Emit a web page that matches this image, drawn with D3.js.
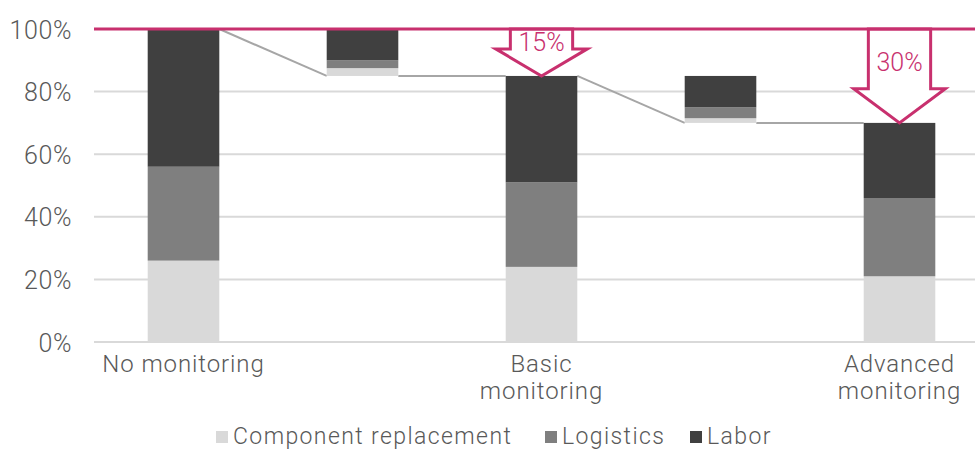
<!DOCTYPE html>
<html>
<head>
<meta charset="utf-8">
<script src="https://cdn.jsdelivr.net/npm/d3@7"></script>
<style>
  html, body { margin: 0; padding: 0; background: #fff; }
  svg { display: block; }
  text { font-family: Roboto, "Liberation Sans", Arial, sans-serif; font-weight: 300; fill: #595959; }
</style>
</head>
<body>
<svg id="chart" width="975" height="450"></svg>
<script>
// Maintenance cost by monitoring level, as a share of the unmonitored cost (%)
const categories = ["No monitoring", "", "Basic\nmonitoring", "", "Advanced\nmonitoring"];
// Floating offset of each column (step columns start where the next total ends)
const baseValues = [0, 85, 0, 70, 0];
const componentValues = [26, 2.5, 24, 1.5, 21];
const logisticsValues = [30, 2.5, 27, 3.5, 25];
const laborValues = [44, 10, 34, 10, 24];
const seriesNames = ["Component replacement", "Logistics", "Labor"];
const seriesColors = ["#d9d9d9", "#7f7f7f", "#404040"];
const yTicks = [0, 20, 40, 60, 80, 100];
const reference = 100;
// Columns that carry a savings arrow against the reference
const savingsColumns = [2, 4];

const svg = d3.select("#chart");
const width = 975, height = 450;
const margin = { left: 94, top: 29, bottom: 108 };
const accent = "#c8306e";

const x = d3.scaleBand()
  .domain(d3.range(categories.length))
  .range([margin.left, 989])
  .paddingInner(0.6)
  .paddingOuter(0.3);

const y = d3.scaleLinear()
  .domain([0, 100])
  .range([342, margin.top]);

// gridlines
svg.append("g")
  .selectAll("line")
  .data(yTicks.filter(t => t < 100))
  .join("line")
  .attr("x1", margin.left).attr("x2", width)
  .attr("y1", d => y(d)).attr("y2", d => y(d))
  .attr("stroke", "#d9d9d9").attr("stroke-width", 2);

// y axis labels
const yAxis = d3.axisLeft(y).tickValues(yTicks).tickFormat(d => d + "%").tickSize(0).tickPadding(0);
const yg = svg.append("g").attr("transform", "translate(72,0)").call(yAxis);
yg.select(".domain").remove();
yg.selectAll("text")
  .attr("font-family", null)
  .style("font-size", "25px")
  .attr("dy", "0.36em")
  .attr("letter-spacing", "0.6");

// stacked data
const rows = categories.map((c, i) => ({
  i,
  base: baseValues[i],
  vals: [componentValues[i], logisticsValues[i], laborValues[i]]
}));
const totals = rows.map(r => r.base + d3.sum(r.vals));

const segs = [];
rows.forEach(r => {
  let acc = r.base;
  r.vals.forEach((v, k) => {
    segs.push({ i: r.i, k, y0: acc, y1: acc + v });
    acc += v;
  });
});

// connector lines between columns
const conn = [];
for (let i = 0; i < rows.length - 1; i++) {
  const fromTop = totals[i];
  const nextBase = rows[i + 1].base;
  const nextTop = totals[i + 1];
  const target = rows[i + 1].base > 0 ? nextBase : nextTop;
  conn.push({ x1: x(i) + x.bandwidth(), y1: rows[i].base > 0 ? rows[i].base : fromTop,
              x2: x(i + 1), y2: target });
}
svg.append("g")
  .selectAll("line")
  .data(conn)
  .join("line")
  .attr("x1", d => d.x1).attr("x2", d => d.x2)
  .attr("y1", d => y(d.y1)).attr("y2", d => y(d.y2))
  .attr("stroke", "#a6a6a6").attr("stroke-width", 2);

// bars
svg.append("g")
  .selectAll("rect")
  .data(segs)
  .join("rect")
  .attr("x", d => x(d.i))
  .attr("width", x.bandwidth())
  .attr("y", d => y(d.y1))
  .attr("height", d => y(d.y0) - y(d.y1))
  .attr("fill", d => seriesColors[d.k]);

// savings arrows
const bw = x.bandwidth();
const arrows = savingsColumns.map(i => {
  const cx = x(i) + bw / 2;
  const top = y(reference);
  const tip = y(totals[i]);
  const len = tip - top;
  const headH = 20 + 0.15 * len;
  const headTop = tip - headH;
  const sw = bw * 0.87, hw = bw * 1.28;
  return {
    label: Math.round(reference - totals[i]) + "%",
    cx, top, tip, headTop,
    pts: [
      [cx - sw / 2, top], [cx + sw / 2, top], [cx + sw / 2, headTop],
      [cx + hw / 2, headTop], [cx, tip], [cx - hw / 2, headTop], [cx - sw / 2, headTop]
    ]
  };
});

const ag = svg.append("g");
ag.selectAll("polygon")
  .data(arrows)
  .join("polygon")
  .attr("points", d => d.pts.map(p => p.join(",")).join(" "))
  .attr("fill", "#fff")
  .attr("stroke", accent)
  .attr("stroke-width", 3)
  .attr("stroke-linejoin", "miter");
ag.selectAll("text")
  .data(arrows)
  .join("text")
  .attr("x", d => d.cx)
  .attr("y", d => (d.top + d.headTop) / 2 + 3)
  .attr("dy", "0.36em")
  .attr("text-anchor", "middle")
  .style("font-size", "25px")
  .style("fill", accent)
  .attr("letter-spacing", "0")
  .text(d => d.label);

// reference line at 100%
svg.append("line")
  .attr("x1", margin.left).attr("x2", width)
  .attr("y1", y(reference)).attr("y2", y(reference))
  .attr("stroke", accent).attr("stroke-width", 3);

// category labels
const xl = svg.append("g");
categories.forEach((c, i) => {
  if (!c) return;
  const t = xl.append("text")
    .attr("x", x(i) + bw / 2)
    .attr("y", 372)
    .attr("text-anchor", "middle")
    .style("font-size", "24px")
    .attr("letter-spacing", "0.9");
  c.split("\n").forEach((line, j) => {
    t.append("tspan")
      .attr("x", x(i) + bw / 2)
      .attr("dy", j === 0 ? 0 : 27)
      .text(line);
  });
});

// legend
const legendX = [216, 545, 690];
const lg = svg.append("g");
seriesNames.forEach((name, k) => {
  lg.append("rect")
    .attr("x", legendX[k]).attr("y", 431)
    .attr("width", 12).attr("height", 12)
    .attr("fill", seriesColors[k]);
  lg.append("text")
    .attr("x", legendX[k] + 17).attr("y", 444)
    .style("font-size", "23px")
    .attr("letter-spacing", "1.4")
    .text(name);
});
</script>
</body>
</html>
